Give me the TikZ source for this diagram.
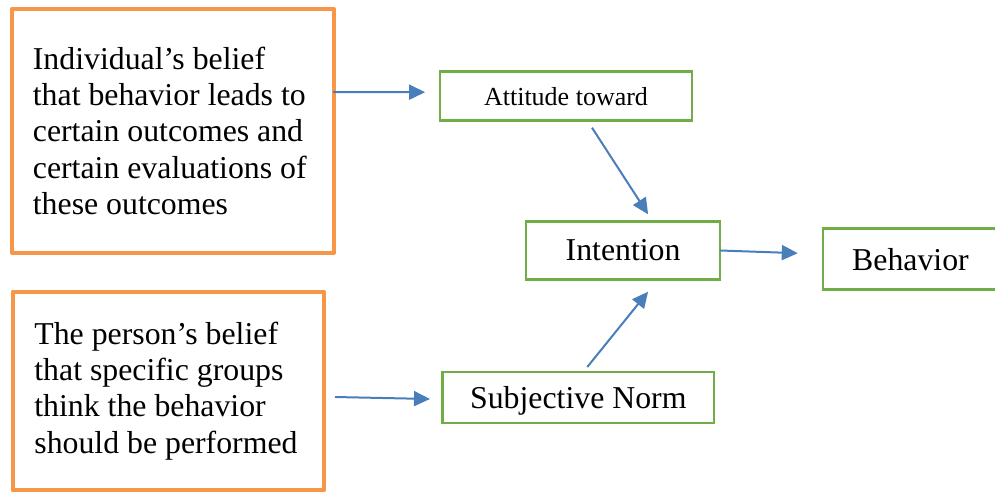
\documentclass[tikz,border=0pt]{standalone}
\usepackage{fontspec}
\setmainfont{Liberation Serif}
\usepackage{tikz}
\usetikzlibrary{arrows.meta, calc}

\definecolor{beliefOrange}{HTML}{F79646}
\definecolor{factorGreen}{HTML}{70AD47}
\definecolor{arrowBlue}{HTML}{4A7EBB}

\begin{document}
\begin{tikzpicture}[
    x=1pt, y=1pt,
    bnode/.style={draw=beliefOrange, line width=4pt, rectangle, line join=round, inner sep=0pt, outer sep=0pt, align=flush left, font=\fontsize{31.8}{36.3}\selectfont}, % belief boxes
    fnode/.style={draw=factorGreen, line width=2.5pt, rectangle, inner sep=0pt, outer sep=0pt, font=\fontsize{31.8}{36.3}\selectfont}, % model boxes
    arrowstyle/.style={-{Triangle[length=16pt, width=15pt]}, draw=arrowBlue, line width=2pt}
]
\useasboundingbox (0,0) rectangle (995,492);

% Beliefs (left)
\node[bnode, minimum width=322.3, minimum height=243.5, text width=280] (belief) at (172.9,361.2)
    {Individual’s belief\\that behavior leads to\\certain outcomes and\\certain evaluations of\\these outcomes};
\node[bnode, minimum width=311.2, minimum height=198.6, text width=268] (person) at (168.4,101)
    {The person’s belief\\that specific groups\\think the behavior\\should be performed};

% Model
\node[fnode, minimum width=251.8, minimum height=49, font=\fontsize{26}{30}\selectfont] (attitude) at (566,395.8) {Attitude toward};
\node[fnode, minimum width=271.7, minimum height=51, text depth=0pt] (norm) at (578.3,94.5) {Subjective Norm};
\node[fnode, minimum width=193.8, minimum height=58.4] (intention) at (623.1,241.5) {Intention};
\node[fnode, minimum width=175.4, minimum height=61] (behavior) at (910.5,232.8) {Behavior};

\draw[arrowstyle] ($(belief.east)+(-1,38.8)$) -- ($(attitude.west)+(-15,4)$);
\draw[arrowstyle] ($(person.east)+(11,-6)$) -- ($(norm.west)+(-12.5,-1.5)$);
\draw[arrowstyle] ($(attitude.south)+(26,-7)$) -- ($(intention.north)+(25,7)$);
\draw[arrowstyle] ($(norm.north)+(9,5)$) -- ($(intention.south)+(25,-12)$);
\draw[arrowstyle] (intention.east) -- ($(behavior.west)+(-25,6)$);

\end{tikzpicture}
\end{document}
